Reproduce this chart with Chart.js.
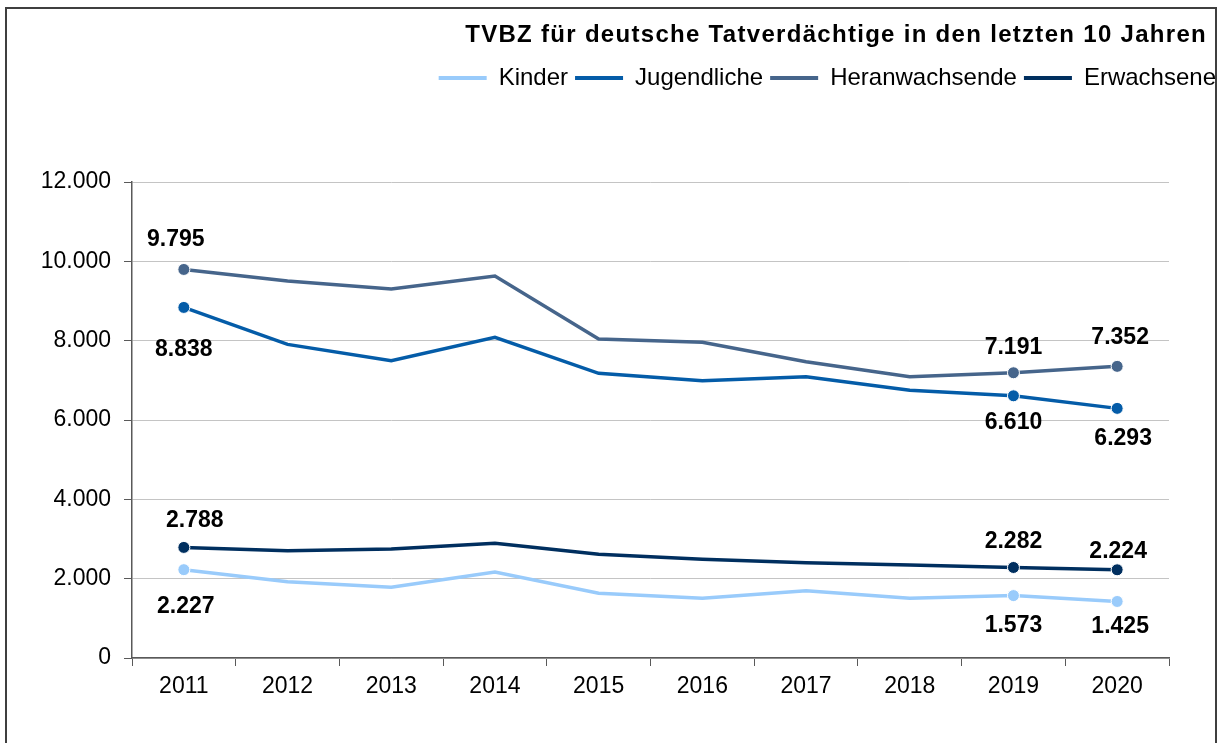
<!DOCTYPE html>
<html>
<head>
<meta charset="utf-8">
<script src="https://cdn.jsdelivr.net/npm/chart.js@4"></script>
<style>
  body { margin: 0; background: #fff; }
  #wrap { position: relative; width: 1223px; height: 743px; }
  #frame {
    position: absolute; left: 5px; top: 7px; width: 1208px; height: 800px;
    border: 2px solid #3f3f3f; border-bottom: none; pointer-events: none;
  }
</style>
</head>
<body>
<div id="wrap">
  <canvas id="tvbzChart" width="1223" height="743"></canvas>
  <div id="frame"></div>
</div>
<script>
const years = ['2011', '2012', '2013', '2014', '2015', '2016', '2017', '2018', '2019', '2020'];

const kinder = [2227, 1924, 1782, 2168, 1631, 1505, 1697, 1505, 1573, 1425];
const jugendliche = [8838, 7907, 7494, 8084, 7177, 6991, 7091, 6748, 6610, 6293];
const heranwachsende = [9795, 9504, 9302, 9630, 8041, 7962, 7469, 7091, 7191, 7352];
const erwachsene = [2788, 2706, 2748, 2891, 2614, 2488, 2403, 2344, 2282, 2224];

const yTicks = [0, 2000, 4000, 6000, 8000, 10000, 12000];
const labeledIdx = [0, 8, 9];

const TITLE = 'TVBZ für deutsche Tatverdächtige in den letzten 10 Jahren';
const FONT = "'Liberation Sans', Arial, sans-serif";

// Lage der Datenbeschriftungen relativ zum Punkt (je beschriftetem Punkt)
const labelShift = {
    'Kinder':         { dx: [2, 0, 3],  dy: [37, 30, 25] },
    'Jugendliche':    { dx: [0, 0, 6],  dy: [42, 27, 30] },
    'Heranwachsende': { dx: [-8, 0, 3], dy: [-30, -25, -29] },
    'Erwachsene':     { dx: [11, 0, 1], dy: [-27, -26, -18] }
};

// 12000 -> "12.000"
function fmt(v) {
    return String(v).replace(/\B(?=(\d{3})+(?!\d))/g, '.');
}

function series(label, data, color) {
    return {
        label: label,
        data: data,
        borderColor: color,
        backgroundColor: color,
        borderWidth: 3.5,
        pointRadius: years.map((_, i) => labeledIdx.includes(i) ? 6 : 0),
        pointBackgroundColor: color,
        pointBorderColor: '#ffffff',
        pointBorderWidth: 1,
        tension: 0
    };
}

// Datenbeschriftungen an ausgewählten Punkten
const valueLabels = {
    id: 'valueLabels',
    afterDatasetsDraw(chart) {
        const ctx = chart.ctx;
        ctx.save();
        ctx.font = 'bold 23px ' + FONT;
        ctx.fillStyle = '#000';
        ctx.textAlign = 'center';
        ctx.textBaseline = 'middle';
        chart.data.datasets.forEach((ds, i) => {
            const meta = chart.getDatasetMeta(i);
            const shift = labelShift[ds.label];
            labeledIdx.forEach((idx, k) => {
                const el = meta.data[idx];
                ctx.fillText(fmt(ds.data[idx]), el.x + shift.dx[k], el.y + shift.dy[k]);
            });
        });
        ctx.restore();
    }
};

// Titel rechtsbündig, etwas gesperrt wie im Original
const titleText = {
    id: 'titleText',
    afterDraw(chart) {
        const ctx = chart.ctx;
        ctx.save();
        ctx.font = 'bold 24px ' + FONT;
        ctx.letterSpacing = '1.3px';
        ctx.fillStyle = '#000';
        ctx.textAlign = 'right';
        ctx.textBaseline = 'alphabetic';
        ctx.fillText(TITLE, 1207, 42);
        ctx.restore();
    }
};

// Abstand zwischen Legende und Diagrammfläche
const legendSpacer = {
    id: 'legendSpacer',
    beforeInit(chart) {
        const fit = chart.legend.fit;
        chart.legend.fit = function () {
            fit.bind(chart.legend)();
            this.height += 82;
        };
    }
};

new Chart(document.getElementById('tvbzChart'), {
    type: 'line',
    data: {
        labels: years,
        datasets: [
            series('Kinder', kinder, '#99cbfb'),
            series('Jugendliche', jugendliche, '#045ca8'),
            series('Heranwachsende', heranwachsende, '#46658b'),
            series('Erwachsene', erwachsene, '#002f5f')
        ]
    },
    options: {
        responsive: false,
        animation: false,
        layout: { padding: { left: 0, right: 0, top: 59, bottom: 0 } },
        plugins: {
            title: { display: false },
            legend: {
                display: true,
                align: 'end',
                labels: {
                    color: '#000',
                    font: { family: FONT, size: 24 },
                    boxWidth: 48,
                    boxHeight: 4,
                    padding: 7,
                    generateLabels(chart) {
                        return Chart.defaults.plugins.legend.labels.generateLabels(chart)
                            .map(l => Object.assign(l, { lineWidth: 0 }));
                    }
                }
            },
            tooltip: { enabled: false }
        },
        scales: {
            x: {
                offset: true,
                grid: {
                    offset: true,
                    drawOnChartArea: false,
                    drawTicks: true,
                    tickLength: 8,
                    tickColor: '#595959'
                },
                border: { color: '#595959', width: 1.5 },
                ticks: {
                    color: '#000',
                    font: { family: FONT, size: 23 },
                    padding: 7,
                    maxRotation: 0
                },
                afterFit(scale) { scale.height = 85; }
            },
            y: {
                min: 0,
                max: 12000,
                afterBuildTicks(scale) { scale.ticks = yTicks.map(v => ({ value: v })); },
                grid: {
                    color: '#c4c4c4',
                    lineWidth: 1,
                    tickLength: 8,
                    tickColor: '#595959'
                },
                border: { color: '#595959', width: 1.5 },
                ticks: {
                    color: '#000',
                    font: { family: FONT, size: 23 },
                    padding: 13,
                    callback: v => fmt(v)
                },
                afterFit(scale) { scale.width = 132; }
            },
            yRight: {
                position: 'right',
                display: true,
                min: 0,
                max: 1,
                grid: { display: false },
                border: { display: false },
                ticks: { display: false },
                afterFit(scale) { scale.width = 54; }
            }
        }
    },
    plugins: [legendSpacer, valueLabels, titleText]
});
</script>
</body>
</html>
